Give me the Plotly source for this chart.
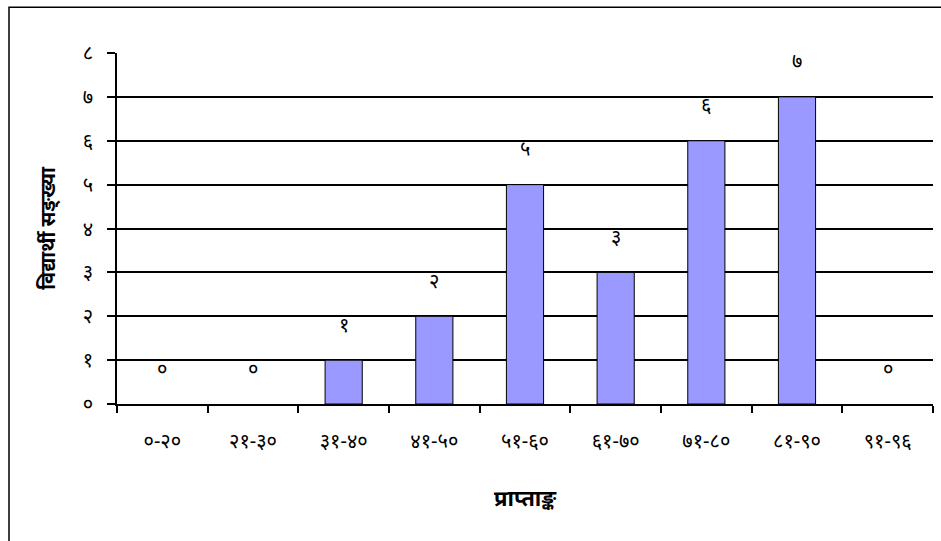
import plotly.graph_objects as go

categories = ["०-२०", "२१-३०", "३१-४०", "४१-५०", "५१-६०", "६१-७०", "७१-८०", "८१-९०", "९१-९६"]
values = [0, 0, 1, 2, 5, 3, 6, 7, 0]
value_labels = ["०", "०", "१", "२", "५", "३", "६", "७", "०"]
y_ticks = [0, 1, 2, 3, 4, 5, 6, 7, 8]
y_tick_labels = ["०", "१", "२", "३", "४", "५", "६", "७", "८"]
x_title = "प्राप्ताङ्क"
y_title = "विद्यार्थी सङ्ख्या"

FONT = "Noto Sans, DejaVu Sans, sans-serif"

fig = go.Figure()
fig.add_trace(go.Bar(
    x=categories, y=values,
    marker=dict(color="#9999FF",
                line=dict(color="black", width=[1 if v > 0 else 0 for v in values])),
    hoverinfo="skip",
))

for c, v, t in zip(categories, values, value_labels):
    fig.add_annotation(x=c, y=v, text=t, showarrow=False, yshift=36,
                       font=dict(family=FONT, size=20, color="black"))

L, R, T, B = 117, 8, 52.7, 137
W, H = 941, 541
pw, ph = W - L - R, H - T - B
fig.add_shape(type="rect", xref="paper", yref="paper",
              x0=(9 - L) / pw, x1=(W + 5 - L) / pw,
              y0=(H - B - (H + 5)) / ph, y1=(H - B - 7) / ph,
              line=dict(color="black", width=1.5), layer="below")

fig.update_layout(
    width=W, height=H,
    margin=dict(l=L, r=R, t=T, b=B, autoexpand=False),
    plot_bgcolor="white", paper_bgcolor="white",
    bargap=0.59,
    showlegend=False,
    font=dict(family=FONT, size=20, color="black"),
    xaxis=dict(
        type="category", tickson="boundaries", ticks="outside", ticklen=7,
        tickcolor="black", tickwidth=1.5, showline=True, linecolor="black", linewidth=1.5,
        showgrid=False, tickfont=dict(size=20), ticklabelstandoff=18,
        title=dict(text=x_title, font=dict(size=22, weight="bold"), standoff=38),
    ),
    yaxis=dict(
        range=[0, 8], tickvals=y_ticks, ticktext=y_tick_labels,
        ticks="outside", ticklen=8, tickcolor="black", tickwidth=1.5,
        showline=True, linecolor="black", linewidth=1.5,
        showgrid=True, gridcolor="black", gridwidth=1.5, zeroline=False,
        tickfont=dict(size=20), ticklabelstandoff=10,
        title=dict(text=y_title, font=dict(size=20, weight="bold"), standoff=22),
    ),
)

fig.write_html("out.html", config={"displayModeBar": False},
               post_script="document.body.style.margin='0';")
